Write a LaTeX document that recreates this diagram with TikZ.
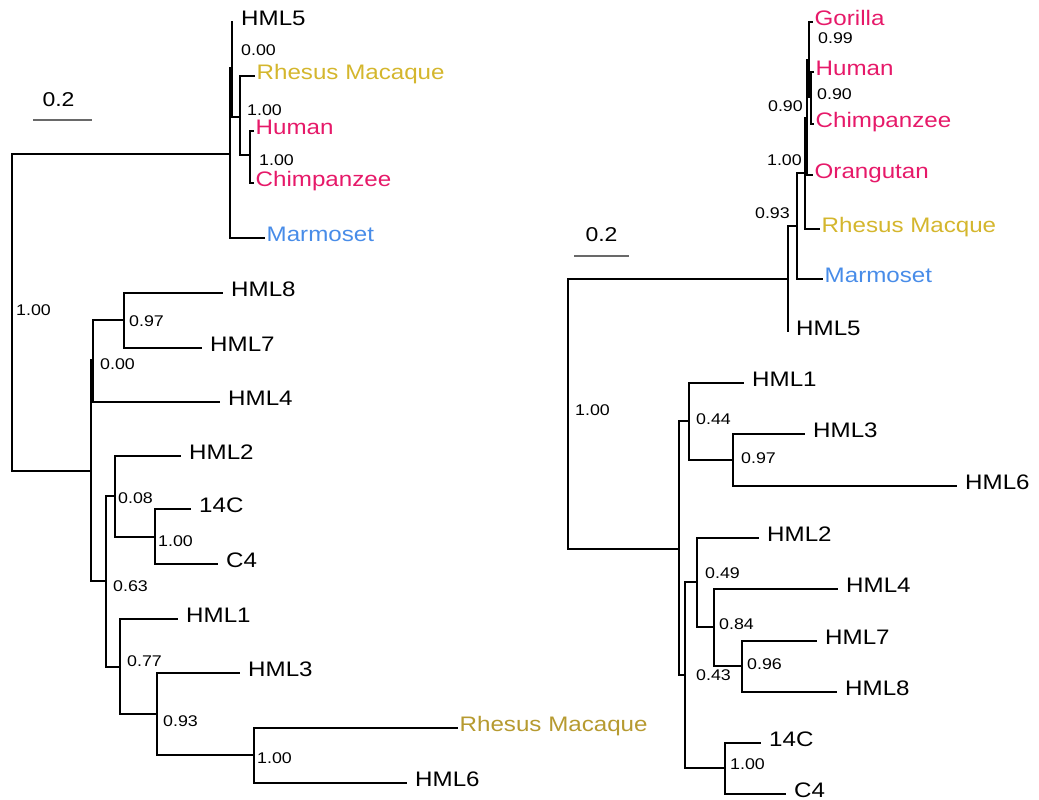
\documentclass[tikz,border=0pt]{standalone}
\usepackage{fontspec}
\setmainfont{Liberation Sans}[FakeStretch=1.15]
\usepackage{tikz}
\definecolor{apepink}{RGB}{230,25,105}
\definecolor{macgold}{RGB}{212,182,45}
\definecolor{macolive}{RGB}{182,154,48}
\definecolor{marblue}{RGB}{72,140,232}
\definecolor{bargray}{RGB}{105,105,105}
\newcommand{\labfont}{\fontsize{21}{25}\selectfont}
\newcommand{\valfont}{\fontsize{15.5}{18}\selectfont}

\begin{document}
\begin{tikzpicture}[x=1pt, y=-1pt,
  branch/.style={line width=2.4pt},
  tip/.style={anchor=west, inner xsep=8pt, inner ysep=0pt, font=\labfont,
    text height=.72em, text depth=0pt},
  ctip/.style={tip, inner xsep=1.5pt},
  val/.style={anchor=west, inner sep=0pt, font=\valfont,
    text height=.72em, text depth=0pt},
  bar/.style={line width=2.2pt, bargray}]
  \useasboundingbox (0,0) rectangle (1039,800);
  % left tree
  \foreach \n/\x/\y in {lroot/12/312, lR/230/154, lQ/232/68, lS/240/117,
    lT/250/155, lL/91/471, lM/93/360, lN/124/320, lO/106/581, lP/115/496,
    lX/155/537, lU/120/667, lV/157/714, lW/254/755}{
    \coordinate (\n) at (\x,\y);}
  \foreach \n/\x/\y/\l in {lhml5/233/22/HML5, lhml8/223/293/HML8,
    lhml7/202/348/HML7, lhml4/220/402/HML4, lhml2/181/456/HML2,
    l14c/191/509/14C, lc4/218/564/C4, lhml1/178/619/HML1,
    lhml3/240/673/HML3, lhml6/407/783/HML6}{
    \node[tip] (\n) at (\x,\y) {\l};}
  \node[ctip, text=macgold] (lrhe) at (255,76) {Rhesus Macaque};
  \node[ctip, text=apepink] (lhum) at (254,131) {Human};
  \node[ctip, text=apepink] (lchi) at (254,183) {Chimpanzee};
  \node[ctip, text=marblue] (lmar) at (265,238) {Marmoset};
  \node[ctip, text=macolive] (lrhe2) at (458,728) {Rhesus Macaque};
  \foreach \a/\b in {lroot/lR, lroot/lL, lR/lQ, lR/lmar, lQ/lhml5, lQ/lS,
    lS/lrhe, lS/lT, lT/lhum, lT/lchi, lL/lM, lL/lO, lM/lN, lM/lhml4,
    lN/lhml8, lN/lhml7, lO/lP, lO/lU, lP/lhml2, lP/lX, lX/l14c, lX/lc4,
    lU/lhml1, lU/lV, lV/lhml3, lV/lW, lW/lrhe2, lW/lhml6}{
    \draw[branch] (\a) |- (\b.west);}
  \foreach \x/\y/\v [count=\i] in {16/312/1.00, 241/52/0.00, 247/112/1.00,
    259/162/1.00, 129/323/0.97, 100/366/0.00, 113/588/0.63, 118/500/0.08,
    158/543/1.00, 127/663/0.77, 163/723/0.93, 257/760/1.00}{
    \node[val] (lv\i) at (\x,\y) {\v};}
  \coordinate (lbar1) at (33,120);
  \coordinate (lbar2) at (92,120);
  \draw[bar] (lbar1) -- (lbar2);
  \node[font=\fontsize{20}{24}\selectfont, inner sep=0pt] (lbart) at (58.5,100) {0.2};
  % right tree
  \foreach \n/\x/\y in {rroot/568/414, rA/788/279, rB/797/226, rC/805/173,
    rD/807/118, rE/809/60, rF/811/97, rG/679/549, rH/689/421, rI/733/460,
    rJ/685/675, rK/697/582, rL/714/627, rN/742/666, rO/725/768}{
    \coordinate (\n) at (\x,\y);}
  \foreach \n/\x/\y/\l in {rhml5/788/332/HML5, rhml1/744/383/HML1,
    rhml3/805/434/HML3, rhml6/957/486/HML6, rhml2/759/538/HML2,
    rhml4/838/589/HML4, rhml7/817/641/HML7, rhml8/837/692/HML8,
    r14c/761/743/14C, rc4/786/794/C4}{
    \node[tip] (\n) at (\x,\y) {\l};}
  \node[ctip, text=apepink] (rgor) at (813,22) {Gorilla};
  \node[ctip, text=apepink] (rhum) at (814,72) {Human};
  \node[ctip, text=apepink] (rchi) at (814,124) {Chimpanzee};
  \node[ctip, text=apepink] (rora) at (813,175) {Orangutan};
  \node[ctip, text=macgold] (rrhe) at (820,229) {Rhesus Macque};
  \node[ctip, text=marblue] (rmar) at (823,279) {Marmoset};
  \foreach \a/\b in {rroot/rA, rroot/rG, rA/rB, rA/rhml5, rB/rC, rB/rmar,
    rC/rD, rC/rrhe, rD/rE, rD/rora, rE/rgor, rE/rF, rF/rhum, rF/rchi,
    rG/rH, rG/rJ, rH/rhml1, rH/rI, rI/rhml3, rI/rhml6, rJ/rK, rJ/rO,
    rK/rhml2, rK/rL, rL/rhml4, rL/rN, rN/rhml7, rN/rhml8, rO/r14c, rO/rc4}{
    \draw[branch] (\a) |- (\b.west);}
  \foreach \x/\y/\v [count=\i] in {575/412/1.00, 818/40/0.99, 817/96/0.90,
    696/421/0.44, 741/460/0.97, 696/677/0.43, 705/575/0.49, 719/626/0.84,
    747/666/0.96, 730/766/1.00}{
    \node[val] (rv\i) at (\x,\y) {\v};}
  \foreach \x/\y/\v [count=\i] in {803/108/0.90, 802/162/1.00, 790/215/0.93}{
    \node[val, anchor=east] (rw\i) at (\x,\y) {\v};}
  \coordinate (rbar1) at (574,256);
  \coordinate (rbar2) at (629,256);
  \draw[bar] (rbar1) -- (rbar2);
  \node[font=\fontsize{20}{24}\selectfont, inner sep=0pt] (rbart) at (601.5,235) {0.2};
\end{tikzpicture}
\end{document}
